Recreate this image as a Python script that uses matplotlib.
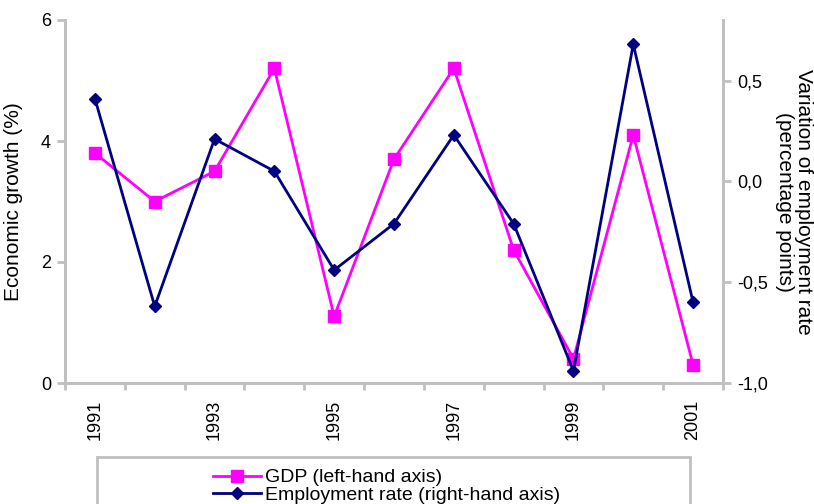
import numpy as np
import matplotlib.pyplot as plt
from matplotlib.patches import Rectangle

plt.rcParams['font.family'] = ['Liberation Sans', 'DejaVu Sans']

# datos
years = [1991, 1992, 1993, 1994, 1995, 1996, 1997, 1998, 1999, 2000, 2001]
gdp = [3.8, 3.0, 3.5, 5.2, 1.1, 3.7, 5.2, 2.2, 0.4, 4.1, 0.3]
employment = [0.41, -0.62, 0.21, 0.05, -0.44, -0.21, 0.23, -0.21, -0.94, 0.68, -0.6]
right_ticks = [-1.0, -0.5, 0.0, 0.5]
right_labels = ["-1,0", "-0,5", "0,0", "0,5"]

gray = "#c0c0c0"
fs = 13   # etiquetas de los ejes
fs_lab = 15  # titulos de ejes
fs_leg = 14  # leyenda

fig = plt.figure(figsize=(8.14, 5.04), dpi=100)
ax = fig.add_axes([65/814, 1-383/504, (723-65)/814, (383-20)/504])
ax2 = ax.twinx()

x = np.arange(len(years))
l1, = ax.plot(x, gdp, color="#ff00ff", lw=2, marker="s", ms=8.5, label="GDP (left-hand axis)")
l2, = ax2.plot(x, employment, color="#000080", lw=2, marker="D", ms=6.5, label="Employment rate (right-hand axis)")

ax.set_xlim(-0.5, len(years)-0.5)
ax.set_ylim(0, 6)
ax.set_yticks([0, 2, 4, 6])
ax2.set_ylim(-1.0, 0.8)
ax2.set_yticks(right_ticks)
ax2.set_yticklabels(right_labels)

ax.set_xticks(x[::2])
ax.set_xticklabels([str(y) for y in years[::2]], rotation=90)
ax.set_xticks(np.arange(-0.5, len(years), 1), minor=True)
ax.tick_params(axis="x", which="major", length=0, labelsize=fs, pad=12)
ax.tick_params(axis="x", which="minor", length=5, color=gray, width=2)
ax.tick_params(axis="y", length=6, color=gray, width=2, labelsize=fs, pad=4)
ax2.tick_params(axis="y", length=6, color=gray, width=2, labelsize=fs, pad=4)

for a in (ax, ax2):
    a.spines["top"].set_visible(False)
    for s in ("left", "right", "bottom"):
        a.spines[s].set_color(gray)
        a.spines[s].set_linewidth(2)

ax.set_ylabel("Economic growth (%)", fontsize=fs_lab)
ax.yaxis.set_label_coords(-0.064, 0.5)
ax2.set_ylabel("Variation of employment rate\n(percentage points)", fontsize=fs_lab,
               rotation=-90, va="center", ha="center", linespacing=0.95)
ax2.yaxis.set_label_coords(1.108, 0.5)

# cuadro de la leyenda
fig.patches.append(Rectangle((97/814, -0.1), (690-97)/814, 0.1+1-457/504,
                             transform=fig.transFigure, fill=False, edgecolor=gray, lw=2))
fig.legend(handles=[l1, l2], loc="upper left", bbox_to_anchor=(203/814, 1-459/504),
           frameon=False, fontsize=fs_leg, handlelength=2.5, handletextpad=0.2,
           labelspacing=0.0, borderpad=0.0)

plt.savefig("out.png", dpi=100)
